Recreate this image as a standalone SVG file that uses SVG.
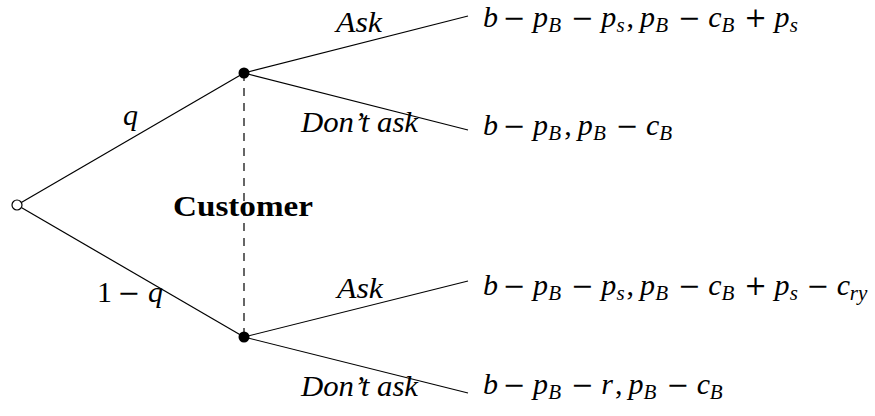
<svg xmlns="http://www.w3.org/2000/svg" width="875" height="416" viewBox="0 0 875 416">
<style>
.e{stroke:#000;stroke-width:1.2;fill:none}
.d{stroke-dasharray:8 7}
.t{font-family:"Liberation Serif","DejaVu Serif",serif;font-size:30px;font-style:italic;fill:#000}
.s{font-size:21px}
.o{font-family:"DejaVu Serif",serif;font-style:normal;font-size:27px}
.n{font-style:normal}
.b{font-style:normal;font-weight:bold}
</style>
<rect width="875" height="416" fill="#fff"/>
<g id="connectors" class="e">
<line x1="21.3" y1="202.5" x2="244" y2="73"/>
<line x1="21.3" y1="207.5" x2="244" y2="337"/>
<line x1="244" y1="73" x2="468" y2="16"/>
<line x1="244" y1="73" x2="468" y2="130"/>
<line x1="244" y1="337" x2="468" y2="281"/>
<line x1="244" y1="337" x2="468" y2="393"/>
<line class="d" x1="244" y1="73" x2="244" y2="337"/>
</g>
<g id="root"><circle cx="17" cy="205" r="5" fill="#fff" stroke="#000" stroke-width="1.2"/></g>
<g id="customer-upper"><circle cx="244" cy="73" r="5.5" fill="#000"/></g>
<g id="customer-lower"><circle cx="244" cy="337" r="5.5" fill="#000"/></g>
<g id="labels" class="t">
<text x="123" y="125">q</text>
<text y="302"><tspan class="n" x="97">1</tspan><tspan class="o" x="117.5">−</tspan><tspan x="148">q</tspan></text>
<text x="336" y="32" textLength="46" lengthAdjust="spacingAndGlyphs">Ask</text>
<text x="301" y="132" textLength="117" lengthAdjust="spacingAndGlyphs">Don’t ask</text>
<text x="337" y="298" textLength="46" lengthAdjust="spacingAndGlyphs">Ask</text>
<text x="301" y="396" textLength="117" lengthAdjust="spacingAndGlyphs">Don’t ask</text>
<text class="b" x="173" y="216" textLength="140" lengthAdjust="spacingAndGlyphs">Customer</text>
</g>
<g id="payoff-1"><text class="t"><tspan x="483" y="27">b</tspan><tspan class="o" x="502.7" y="27">−</tspan><tspan x="533" y="27">p</tspan><tspan class="s" x="548.2" y="31.5">B</tspan><tspan class="o" x="571" y="27">−</tspan><tspan x="601.3" y="27">p</tspan><tspan class="s" x="616.6" y="31.5">s</tspan><tspan class="n" x="626.5" y="27">,</tspan><tspan x="640" y="27">p</tspan><tspan class="s" x="655.2" y="31.5">B</tspan><tspan class="o" x="678" y="27">−</tspan><tspan x="708.3" y="27">c</tspan><tspan class="s" x="721.4" y="31.5">B</tspan><tspan class="o" x="744.3" y="27">+</tspan><tspan x="774.6" y="27">p</tspan><tspan class="s" x="789.8" y="31.5">s</tspan></text></g>
<g id="payoff-2"><text class="t"><tspan x="483" y="135">b</tspan><tspan class="o" x="502.7" y="135">−</tspan><tspan x="533" y="135">p</tspan><tspan class="s" x="548.2" y="139.5">B</tspan><tspan class="n" x="564.3" y="135">,</tspan><tspan x="577.8" y="135">p</tspan><tspan class="s" x="593" y="139.5">B</tspan><tspan class="o" x="615.8" y="135">−</tspan><tspan x="646.1" y="135">c</tspan><tspan class="s" x="659.2" y="139.5">B</tspan></text></g>
<g id="payoff-3"><text class="t"><tspan x="483" y="295">b</tspan><tspan class="o" x="502.7" y="295">−</tspan><tspan x="533" y="295">p</tspan><tspan class="s" x="548.2" y="299.5">B</tspan><tspan class="o" x="571" y="295">−</tspan><tspan x="601.3" y="295">p</tspan><tspan class="s" x="616.6" y="299.5">s</tspan><tspan class="n" x="626.5" y="295">,</tspan><tspan x="640" y="295">p</tspan><tspan class="s" x="655.2" y="299.5">B</tspan><tspan class="o" x="678" y="295">−</tspan><tspan x="708.3" y="295">c</tspan><tspan class="s" x="721.4" y="299.5">B</tspan><tspan class="o" x="744.3" y="295">+</tspan><tspan x="774.6" y="295">p</tspan><tspan class="s" x="789.8" y="299.5">s</tspan><tspan class="o" x="806.4" y="295">−</tspan><tspan x="836.7" y="295">c</tspan><tspan class="s" x="849.8" y="299.5">ry</tspan></text></g>
<g id="payoff-4"><text class="t"><tspan x="483" y="394">b</tspan><tspan class="o" x="502.7" y="394">−</tspan><tspan x="533" y="394">p</tspan><tspan class="s" x="548.2" y="398.5">B</tspan><tspan class="o" x="571" y="394">−</tspan><tspan x="601.3" y="394">r</tspan><tspan class="n" x="615" y="394">,</tspan><tspan x="628.4" y="394">p</tspan><tspan class="s" x="643.6" y="398.5">B</tspan><tspan class="o" x="666.4" y="394">−</tspan><tspan x="696.7" y="394">c</tspan><tspan class="s" x="709.8" y="398.5">B</tspan></text></g>
</svg>
